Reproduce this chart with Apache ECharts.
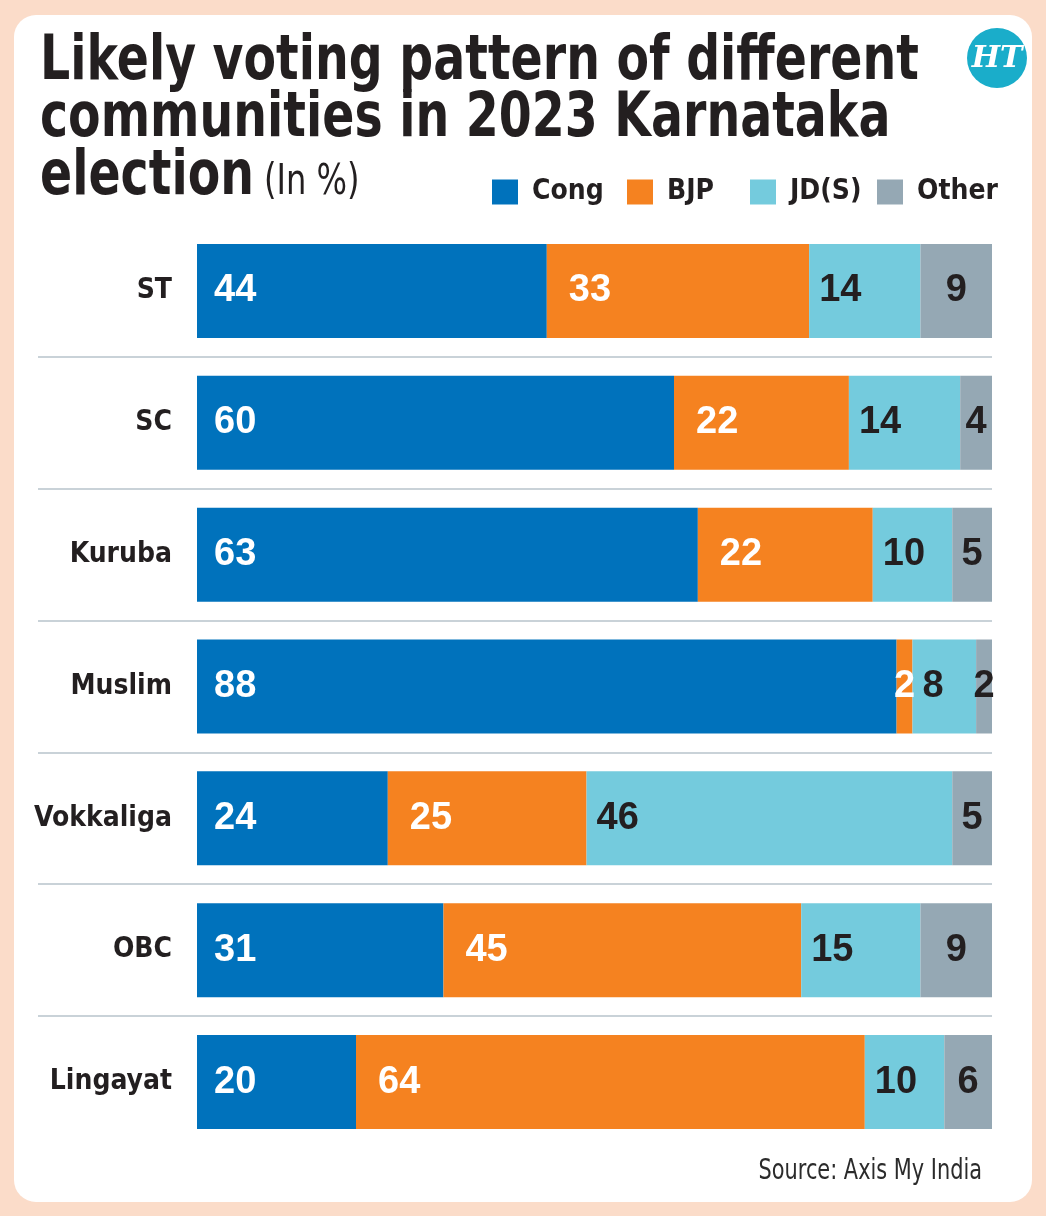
<!DOCTYPE html>
<html>
<head>
<meta charset="utf-8">
<title>Likely voting pattern of different communities in 2023 Karnataka election</title>
<script src="https://cdn.jsdelivr.net/npm/echarts@6/dist/echarts.min.js"></script>
<style>
  html, body { margin: 0; padding: 0; background: #fbdcc9; }
  #chart { width: 1046px; height: 1216px; }
</style>
</head>
<body>
<div id="chart"></div>
<script>
// data
var communities = ['ST', 'SC', 'Kuruba', 'Muslim', 'Vokkaliga', 'OBC', 'Lingayat'];
var congValues = [44, 60, 63, 88, 24, 31, 20];
var bjpValues = [33, 22, 22, 2, 25, 45, 64];
var jdsValues = [14, 14, 10, 8, 46, 15, 10];
var otherValues = [9, 4, 5, 2, 5, 9, 6];
var partyNames = ['Cong', 'BJP', 'JD(S)', 'Other'];
var partyColors = ['#0072bc', '#f58220', '#74cbdd', '#95a8b4'];

var NARROW = "'DejaVu Sans Condensed', 'Liberation Sans', sans-serif";
var WIDE = "'Liberation Sans', Arial, sans-serif";
var HEAVY = "'DejaVu Sans', 'Liberation Sans', sans-serif";
var INK = '#231f20';

var chart = echarts.init(document.getElementById('chart'), null, { renderer: 'canvas' });

// label placement per party (distance from bar start), colour of the number
var labelCfg = [
  { pos: 'insideLeft', dist: 17, color: '#fff' },
  { pos: 'insideLeft', dist: 22, color: '#fff' },
  { pos: 'insideLeft', dist: 10, color: INK },
  { pos: 'inside', dist: 0, color: INK }
];

function makeSeries(idx, values) {
  var cfg = labelCfg[idx];
  return {
    name: partyNames[idx],
    type: 'bar',
    stack: 'all',
    barWidth: 94,
    xAxisIndex: 0,
    yAxisIndex: 0,
    itemStyle: { color: partyColors[idx] },
    label: {
      show: true,
      position: cfg.pos,
      distance: cfg.dist,
      color: cfg.color,
      fontFamily: WIDE,
      fontWeight: 'bold',
      fontSize: 38
    },
    data: values.map(function (v) {
      // tiny slices: centre the number on the slice
      if (v <= 3) return { value: v, label: { position: 'inside' } };
      return v;
    })
  };
}

function legendAt(name, left) {
  return {
    data: [name],
    left: left,
    top: 176,
    padding: 0,
    icon: 'rect',
    itemWidth: 26,
    itemHeight: 25,
    selectedMode: false,
    textStyle: {
      fontFamily: NARROW,
      fontWeight: 'bold',
      fontSize: 28,
      lineHeight: 32,
      color: INK,
      padding: [0, 0, 0, 9]
    }
  };
}

var option = {
  backgroundColor: '#fbdcc9',
  animation: false,
  legend: [
    legendAt('Cong', 492),
    legendAt('BJP', 627),
    legendAt('JD(S)', 750),
    legendAt('Other', 877)
  ],
  grid: [
    { left: 197, right: 54, top: 225, bottom: 68 },
    // thin rules between the rows
    { left: 38, right: 54, top: 357, height: 659 }
  ],
  xAxis: [
    { type: 'value', gridIndex: 0, min: 0, max: 100, show: false },
    { type: 'value', gridIndex: 1, min: 0, max: 1, show: false }
  ],
  yAxis: [
    {
      type: 'category',
      gridIndex: 0,
      inverse: true,
      data: communities,
      axisLine: { show: false },
      axisTick: { show: false },
      splitLine: { show: false },
      axisLabel: {
        margin: 25,
        fontFamily: NARROW,
        fontWeight: 'bold',
        fontSize: 28,
        color: INK,
        padding: [0, 0, 4, 0]
      }
    },
    {
      type: 'value',
      gridIndex: 1,
      min: 1,
      max: 6,
      interval: 1,
      axisLine: { show: false },
      axisTick: { show: false },
      axisLabel: { show: false },
      splitLine: { show: true, lineStyle: { color: '#c9d2d8', width: 2 } }
    }
  ],
  graphic: [
    { type: 'rect', z: -10, shape: { x: 14, y: 15, width: 1018, height: 1187, r: 22 }, style: { fill: '#fff' } },
    { type: 'text', x: 40, y: 63, scaleX: 0.765, style: { text: 'Likely voting pattern of different', fill: INK, font: "bold 62px " + HEAVY, textVerticalAlign: 'middle' } },
    { type: 'text', x: 40, y: 120, scaleX: 0.765, style: { text: 'communities in 2023 Karnataka', fill: INK, font: "bold 62px " + HEAVY, textVerticalAlign: 'middle' } },
    { type: 'text', x: 40, y: 178, scaleX: 0.765, style: { text: 'election', fill: INK, font: "bold 62px " + HEAVY, textVerticalAlign: 'middle' } },
    { type: 'text', x: 264, y: 183, scaleX: 0.85, style: { text: '(In %)', fill: INK, font: "normal 42px " + NARROW, textVerticalAlign: 'middle' } },
    { type: 'circle', shape: { cx: 997, cy: 58, r: 30 }, style: { fill: '#1aadca' } },
    { type: 'text', x: 997, y: 59, style: { text: 'HT', fill: '#fff', font: "italic bold 30px 'DejaVu Serif', serif", textAlign: 'center', textVerticalAlign: 'middle' } },
    { type: 'text', x: 982, y: 1171, scaleX: 0.8, style: { text: 'Source: Axis My India', fill: '#2b2b2b', font: "normal 29px " + NARROW, textAlign: 'right', textVerticalAlign: 'middle' } }
  ],
  series: [
    makeSeries(0, congValues),
    makeSeries(1, bjpValues),
    makeSeries(2, jdsValues),
    makeSeries(3, otherValues)
  ]
};

chart.setOption(option);
</script>
</body>
</html>
